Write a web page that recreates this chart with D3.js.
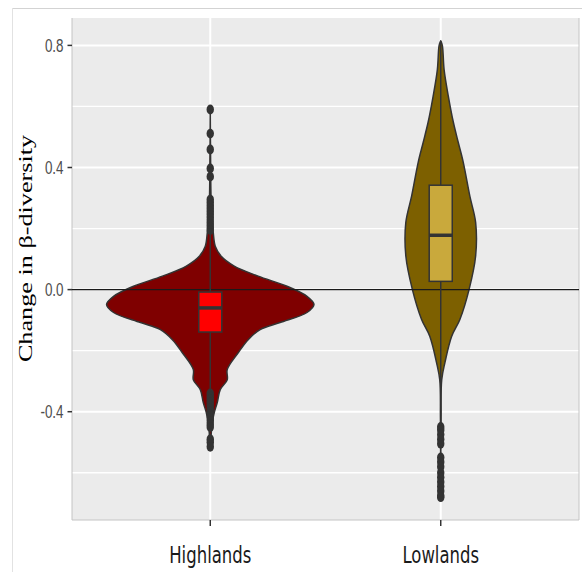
<!DOCTYPE html>
<html>
<head>
<meta charset="utf-8">
<script src="https://cdn.jsdelivr.net/npm/d3@7"></script>
<style>
  html, body { margin: 0; padding: 0; background: #ffffff; }
  svg { display: block; }
</style>
</head>
<body>
<svg id="chart" width="582" height="572"></svg>
<script>
// ---- data -------------------------------------------------------------
const categories = ["Highlands", "Lowlands"];

// kernel density profiles (value, density) for each group
const highlandsValues  = [0.59, 0.40, 0.30, 0.22, 0.186, 0.142, 0.109, 0.077, 0.044, 0.011, -0.022, -0.049, -0.075, -0.108, -0.131, -0.164, -0.207, -0.262, -0.295, -0.328, -0.370, -0.403, -0.436, -0.52];
const highlandsDensity = [0.0, 0.02, 0.04, 0.1, 0.15, 0.25, 0.55, 1.2, 2.4, 3.85, 4.85, 5.2, 4.85, 3.5, 2.5, 1.9, 1.4, 0.85, 0.85, 0.5, 0.35, 0.2, 0.1, 0.0];

const lowlandsValues  = [0.815, 0.80, 0.72, 0.634, 0.549, 0.482, 0.417, 0.306, 0.220, 0.110, 0.0, -0.098, -0.153, -0.239, -0.295, -0.426, -0.68];
const lowlandsDensity = [0.0, 0.08, 0.17, 0.38, 0.63, 0.88, 1.13, 1.46, 1.75, 1.75, 1.42, 0.96, 0.55, 0.21, 0.05, 0.015, 0.0];

// box-plot statistics, one entry per category
const boxQ1       = [-0.139, 0.027];
const boxMedian   = [-0.060, 0.178];
const boxQ3       = [-0.008, 0.342];
const whiskerLow  = [-0.330, -0.440];
const whiskerHigh = [0.186, 0.815];

// outlying observations
const highlandsOutliers = [0.59, 0.511, 0.459, 0.397, 0.370, 0.295, 0.285, 0.275, 0.265, 0.255, 0.245, 0.235, 0.225, 0.215, 0.205, 0.195,
  -0.34, -0.35, -0.36, -0.37, -0.38, -0.39, -0.40, -0.41, -0.42, -0.43, -0.44, -0.45, -0.49, -0.50, -0.515];
const lowlandsOutliers = [-0.45, -0.46, -0.475, -0.49, -0.505, -0.55, -0.565, -0.58, -0.60, -0.615, -0.63, -0.645, -0.66, -0.675, -0.68];

const yMajorTicks = [-0.4, 0.0, 0.4, 0.8];
const yTickLabels = ["-0.4", "0.0", "0.4", "0.8"];
const yMinorTicks = [-0.6, -0.2, 0.2, 0.6];
const referenceLine = 0;

// ---- layout -----------------------------------------------------------
const panel = { left: 72, right: 579, top: 18, bottom: 520 };
const svg = d3.select("#chart");

const violinFill = ["#7f0000", "#7d6000"];
const boxFill = ["#ff0000", "#c9a93c"];
const ink = "#333333";

const profiles = [
  highlandsValues.map((v, i) => ({ v, d: highlandsDensity[i] })),
  lowlandsValues.map((v, i) => ({ v, d: lowlandsDensity[i] }))
];
const outliers = [highlandsOutliers, lowlandsOutliers];

// y range padded by 5% of the data span
const allValues = [].concat(highlandsValues, lowlandsValues, highlandsOutliers, lowlandsOutliers);
const [lo, hi] = d3.extent(allValues);
const pad = (hi - lo) * 0.05;

const x = d3.scalePoint().domain(categories).range([panel.left, panel.right]).padding(0.6);
const y = d3.scaleLinear().domain([lo - pad, hi + pad]).range([panel.bottom, panel.top]);
const maxDensity = d3.max([].concat(highlandsDensity, lowlandsDensity));
const halfWidth = d3.scaleLinear().domain([0, maxDensity]).range([0, 0.45 * x.step()]);
const boxHalf = 0.05 * x.step();

// outer frame lines
svg.append("line").attr("x1", 12).attr("x2", 582).attr("y1", 8.5).attr("y2", 8.5)
  .attr("stroke", "#d3d3d3").attr("stroke-width", 1);
svg.append("line").attr("x1", 12.5).attr("x2", 12.5).attr("y1", 8).attr("y2", 572)
  .attr("stroke", "#e2e2e2").attr("stroke-width", 1);

// panel background
svg.append("rect")
  .attr("x", panel.left).attr("y", panel.top)
  .attr("width", panel.right - panel.left).attr("height", panel.bottom - panel.top)
  .attr("fill", "#ebebeb");

// grid
const grid = svg.append("g");
grid.selectAll(".minor").data(yMinorTicks).join("line")
  .attr("x1", panel.left).attr("x2", panel.right)
  .attr("y1", d => y(d)).attr("y2", d => y(d))
  .attr("stroke", "#ffffff").attr("stroke-width", 1.3);
grid.selectAll(".major").data(yMajorTicks).join("line")
  .attr("x1", panel.left).attr("x2", panel.right)
  .attr("y1", d => y(d)).attr("y2", d => y(d))
  .attr("stroke", "#ffffff").attr("stroke-width", 2);
grid.selectAll(".vmajor").data(categories).join("line")
  .attr("x1", d => x(d)).attr("x2", d => x(d))
  .attr("y1", panel.top).attr("y2", panel.bottom)
  .attr("stroke", "#ffffff").attr("stroke-width", 2);

// panel edges
svg.append("path")
  .attr("d", `M${panel.left},${panel.top}V${panel.bottom}H${panel.right}V${panel.top}`)
  .attr("fill", "none").attr("stroke", "#c4c4c4").attr("stroke-width", 1);

// violins
categories.forEach((c, i) => {
  const cx = x(c);
  const area = d3.area()
    .y(d => y(d.v))
    .x0(d => cx - halfWidth(d.d))
    .x1(d => cx + halfWidth(d.d))
    .curve(d3.curveCatmullRom.alpha(0.5));
  svg.append("path")
    .attr("d", area(profiles[i]))
    .attr("fill", violinFill[i])
    .attr("stroke", ink).attr("stroke-width", 1.5)
    .attr("stroke-linejoin", "round");
});

// reference line at zero
svg.append("line")
  .attr("x1", panel.left).attr("x2", panel.right)
  .attr("y1", y(referenceLine)).attr("y2", y(referenceLine))
  .attr("stroke", "#1a1a1a").attr("stroke-width", 1.4);

// box plots
categories.forEach((c, i) => {
  const cx = x(c);
  const g = svg.append("g");
  g.append("line").attr("x1", cx).attr("x2", cx)
    .attr("y1", y(boxQ3[i])).attr("y2", y(whiskerHigh[i]))
    .attr("stroke", ink).attr("stroke-width", 1.5);
  g.append("line").attr("x1", cx).attr("x2", cx)
    .attr("y1", y(boxQ1[i])).attr("y2", y(whiskerLow[i]))
    .attr("stroke", ink).attr("stroke-width", 1.5);
  g.append("rect")
    .attr("x", cx - boxHalf).attr("width", 2 * boxHalf)
    .attr("y", y(boxQ3[i])).attr("height", y(boxQ1[i]) - y(boxQ3[i]))
    .attr("fill", boxFill[i]).attr("stroke", ink).attr("stroke-width", 1.5);
  g.append("line")
    .attr("x1", cx - boxHalf).attr("x2", cx + boxHalf)
    .attr("y1", y(boxMedian[i])).attr("y2", y(boxMedian[i]))
    .attr("stroke", ink).attr("stroke-width", 3.5);
  g.selectAll("ellipse").data(outliers[i]).join("ellipse")
    .attr("cx", cx).attr("cy", d => y(d))
    .attr("rx", 3.7).attr("ry", 4.9)
    .attr("fill", ink);
});

// y axis ticks and labels
const yAxis = svg.append("g");
yAxis.selectAll("line").data(yMajorTicks).join("line")
  .attr("x1", panel.left - 4.5).attr("x2", panel.left)
  .attr("y1", d => y(d)).attr("y2", d => y(d))
  .attr("stroke", ink).attr("stroke-width", 1.5);
yAxis.selectAll("text").data(yMajorTicks).join("text")
  .attr("transform", d => `translate(${panel.left - 8.5},${y(d)}) scale(1,1.38)`)
  .attr("dy", "0.36em")
  .attr("text-anchor", "end")
  .attr("font-family", "'Liberation Sans', Arial, sans-serif")
  .attr("font-size", 13.4)
  .attr("fill", "#4d4d4d")
  .text((d, i) => yTickLabels[i]);

// x axis ticks and labels
const xAxis = svg.append("g");
xAxis.selectAll("line").data(categories).join("line")
  .attr("x1", d => x(d)).attr("x2", d => x(d))
  .attr("y1", panel.bottom).attr("y2", panel.bottom + 6)
  .attr("stroke", ink).attr("stroke-width", 1.5);
xAxis.selectAll("text").data(categories).join("text")
  .attr("transform", d => `translate(${x(d)},563) scale(1,1.39)`)
  .attr("text-anchor", "middle")
  .attr("font-family", "'DejaVu Sans', sans-serif")
  .attr("font-size", 16.5)
  .attr("fill", "#1a1a1a")
  .text(d => d);

// y axis title
svg.append("text")
  .attr("transform", "translate(32,248.5) rotate(-90) scale(1.38,1)")
  .attr("text-anchor", "middle")
  .attr("font-family", "'Liberation Serif', 'Times New Roman', serif")
  .attr("font-size", 19)
  .attr("fill", "#000000")
  .text("Change in β-diversity");
</script>
</body>
</html>
